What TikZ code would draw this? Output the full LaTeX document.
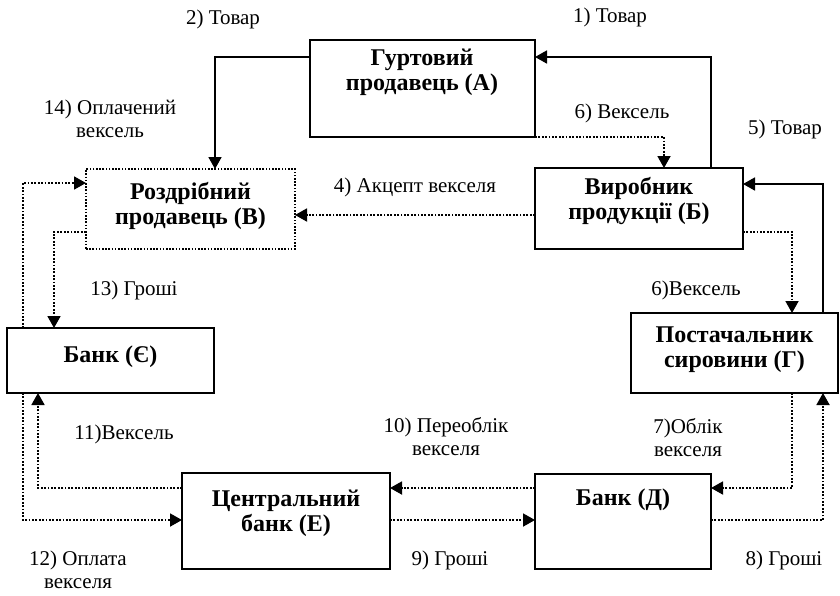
\documentclass[tikz,border=0pt]{standalone}
\usepackage{fontspec}
\setmainfont{Liberation Serif}
\usetikzlibrary{arrows.meta}
\tikzset{
  box/.style={draw, line width=1.8pt, rectangle, inner sep=0pt, outer sep=0pt},
  dotbox/.style={draw, line width=1.6pt, dash pattern=on 1.6pt off 1.6pt, rectangle, inner sep=0pt, outer sep=0pt},
  btxt/.style={font=\bfseries\fontsize{24}{25}\selectfont, align=center, inner sep=0pt},
  etxt/.style={font=\fontsize{21}{23}\selectfont, align=center, inner sep=0pt},
  sarr/.style={line width=1.8pt, -{Triangle[length=12pt,width=13pt]}},
  darr/.style={line width=1.8pt, dash pattern=on 1.8pt off 1.6pt, -{Triangle[length=12pt,width=13pt]}},
}
\begin{document}
\begin{tikzpicture}[x=1pt,y=-1pt]
\useasboundingbox (0,0) rectangle (840,595);
% boxes
\node[box, minimum width=225pt, minimum height=97pt] (A) at (422.5,88.5) {};
\node[box, minimum width=208pt, minimum height=81pt] (B) at (639,208.5) {};
\node[dotbox, minimum width=209pt, minimum height=80pt] (V) at (190.5,209) {};
\node[box, minimum width=207pt, minimum height=65pt] (Ye) at (110.5,360.5) {};
\node[box, minimum width=207pt, minimum height=80pt] (G) at (734.5,353) {};
\node[box, minimum width=208pt, minimum height=96pt] (CB) at (286,521) {};
\node[box, minimum width=176pt, minimum height=95pt] (D) at (623,521.5) {};
% box texts
\node[btxt] (At) at (422,72) {Гуртовий\\продавець (А)};
\node[btxt] (Bt) at (639,201) {Виробник\\продукції (Б)};
\node[btxt] (Vt) at (190.5,206) {Роздрібний\\продавець (В)};
\node[btxt] (Yet) at (110.5,357) {Банк (Є)};
\node[btxt] (Gt) at (734.5,350) {Постачальник\\сировини (Г)};
\node[btxt] (CBt) at (286,513) {Центральний\\банк (Е)};
\node[btxt] (Dt) at (623,500) {Банк (Д)};
% edge labels
\node[etxt] (l1) at (610,17) {1) Товар};
\node[etxt] (l2) at (223,19) {2) Товар};
\node[etxt] (l14) at (110,119) {14) Оплачений\\вексель};
\node[etxt] (l6a) at (622,113) {6) Вексель};
\node[etxt] (l5) at (785,129) {5) Товар};
\node[etxt] (l4) at (415,187) {4) Акцепт векселя};
\node[etxt] (l13) at (134,290) {13) Гроші};
\node[etxt] (l6b) at (696,290) {6)Вексель};
\node[etxt] (l11) at (124,434) {11)Вексель};
\node[etxt] (l10) at (446,437) {10) Переоблік\\векселя};
\node[etxt] (l7) at (688,438) {7)Облік\\векселя};
\node[etxt] (l12) at (78,570) {12) Оплата\\векселя};
\node[etxt] (l9) at (450,560) {9) Гроші};
\node[etxt] (l8) at (784,560) {8) Гроші};
% connectors
\draw[sarr] (B.north -| 711,0) |- (A.east |- 0,57);
\draw[sarr] (A.west |- 0,57) -| (V.north -| 215,0);
\draw[sarr] (G.north -| 823,0) |- (B.east |- 0,184);
\draw[darr] (A.east |- 0,137) -| (B.north -| 664,0);
\draw[darr] (B.west |- 0,215) -- (V.east |- 0,215);
\draw[darr] (B.east |- 0,232) -| (G.north -| 792,0);
\draw[darr] (Ye.north -| 23,0) |- (V.west |- 0,183);
\draw[darr] (V.west |- 0,232) -| (Ye.north -| 54,0);
\draw[darr] (CB.west |- 0,488) -| (Ye.south -| 38,0);
\draw[darr] (Ye.south -| 23,0) |- (CB.west |- 0,520);
\draw[darr] (D.west |- 0,488) -- (CB.east |- 0,488);
\draw[darr] (CB.east |- 0,520) -- (D.west |- 0,520);
\draw[darr] (G.south -| 792,0) |- (D.east |- 0,488);
\draw[darr] (D.east |- 0,520) -| (G.south -| 823,0);
\end{tikzpicture}
\end{document}
